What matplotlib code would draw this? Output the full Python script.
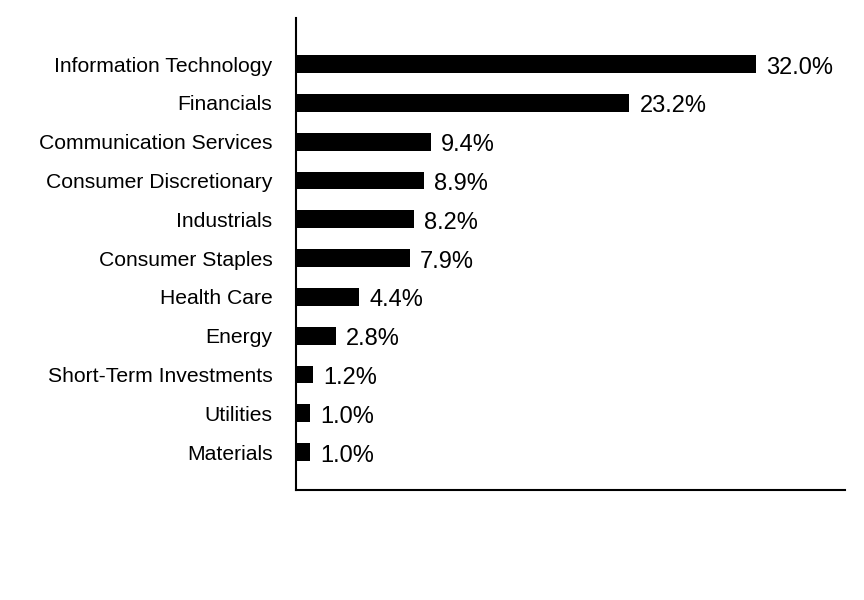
import matplotlib
matplotlib.use("Agg")
import matplotlib.pyplot as plt

plt.rcParams.update({"font.family": ["Liberation Sans", "DejaVu Sans"]})

sectors = ["Information Technology", "Financials", "Communication Services",
           "Consumer Discretionary", "Industrials", "Consumer Staples",
           "Health Care", "Energy", "Short-Term Investments", "Utilities",
           "Materials"]
weights = [32.0, 23.2, 9.4, 8.9, 8.2, 7.9, 4.4, 2.8, 1.2, 1.0, 1.0]

fig = plt.figure(figsize=(8.64, 6.0), dpi=100)
ax = fig.add_axes([0.3426, 0.1833, 0.6354, 0.7867])

pos = list(range(len(sectors)))[::-1]
ax.barh(pos, weights, height=0.46, color="black")
for p, w in zip(pos, weights):
    ax.text(w + 0.7, p - 0.09, f"{w:.1f}%", va="center", ha="left",
            fontsize=17)

ax.set_yticks(pos)
ax.set_yticklabels(sectors, fontsize=15.2)
ax.tick_params(axis="y", length=0, pad=17)
ax.set_xticks([])
ax.set_xlim(0, 38.2)
ax.set_ylim(-0.98, 11.19)
for s in ("top", "right"):
    ax.spines[s].set_visible(False)
ax.spines["left"].set_linewidth(1.5)
ax.spines["bottom"].set_linewidth(1.5)

fig.savefig("out.png", dpi=100, facecolor="white")
